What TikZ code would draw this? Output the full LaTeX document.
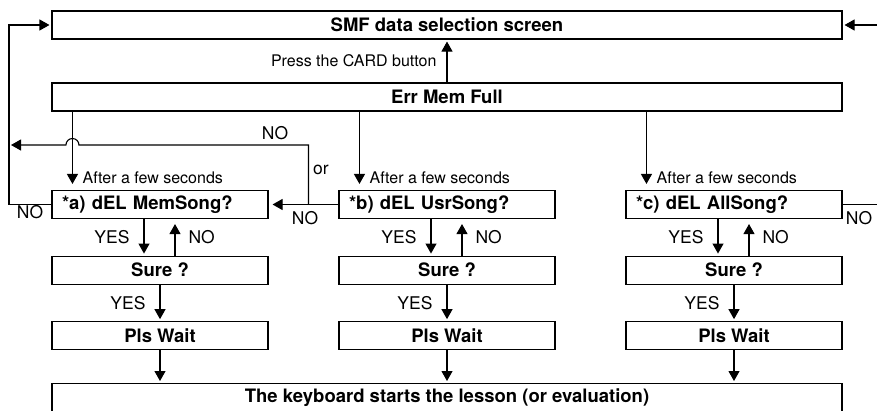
\documentclass[tikz,border=0pt]{standalone}
\usepackage{fontspec}
\setmainfont{TeX Gyre Heros}
\usetikzlibrary{arrows.meta,positioning,calc}
\tikzset{
  menubox/.style={draw,line width=1.1pt,minimum height=28pt,inner sep=0pt,font=\fontsize{18.5}{20}\selectfont\bfseries},
  widebox/.style={menubox,minimum width=790pt},
  colbox/.style={menubox,minimum width=216pt},
  askbox/.style={colbox,text width=196pt,inner xsep=10pt,align=left},
  flowline/.style={line width=1.1pt,-{Triangle[length=10pt,width=11pt]},shorten >=2pt},
  lbl/.style={font=\fontsize{17.5}{19}\selectfont,inner sep=0pt},
  smalllbl/.style={font=\fontsize{16}{18}\selectfont,inner sep=0pt}
}
\begin{document}
\begin{tikzpicture}[x=1pt,y=1pt]
\useasboundingbox (0,0) rectangle (877,-410);
\node[widebox] (smf) at (447,-25) {SMF data selection screen};
\node[widebox] (err) at (447,-97) {Err Mem Full};
\node[askbox] (a) at (160,-204.5) {*a) dEL MemSong?};
\node[askbox] (b) at (447,-204.5) {*b) dEL UsrSong?};
\node[askbox] (c) at (734,-204.5) {*c) dEL AllSong?};
\foreach \n in {a,b,c}{
  \node[colbox,below=36.5pt of \n] (sure\n) {Sure ?};
  \node[colbox,below=36.5pt of sure\n] (wait\n) {Pls Wait};
}
\node[widebox,anchor=north] (keys) at (447,-383) {The keyboard starts the lesson (or evaluation)};
\coordinate (lx) at (9,-25);
\coordinate (rx) at (890,-25);
\coordinate (hopy) at (0,-145);
\coordinate (orpt) at ($(b.west)+(-30,0)$);
% top part
\draw[flowline] (err.north) -- node[smalllbl,left=10pt]{Press the CARD button} (smf.south);
\foreach \n in {a,b,c}{
  \coordinate (in\n) at ($(\n.north west)+(21,0)$);
  \draw[flowline,shorten >=6pt] (err.south -| in\n) -- (in\n);
  \node[smalllbl,anchor=base west] (after\n) at ($(in\n)+(10,6)$) {After a few seconds};
}
% NO loops
\draw[flowline] (a.west) -| (lx) -- (smf.west);
\draw[flowline] (c.east) -| (rx) -- (smf.east);
\draw[flowline,shorten >=4pt] (b.west) -- (a.east);
\draw[flowline] (orpt) -- (orpt |- hopy) -- ($(ina |- hopy)+(6.5,0)$) arc[start angle=0,end angle=180,radius=6.5] -- (lx |- hopy);
\node[lbl] (noup) at (275,-133) {NO};
\node[lbl] (ortext) at (321,-170) {or};
\node[lbl] (noa) at (30,-212) {NO};
\node[lbl] (nob) at (305,-218) {NO};
\node[lbl] (noc) at (859,-218) {NO};
% columns
\foreach \n in {a,b,c}{
  \draw[flowline] ($(\n.south)+(-16,0)$) -- node[lbl,left=14pt]{YES} ($(sure\n.north)+(-16,0)$);
  \draw[flowline,shorten >=5pt] ($(sure\n.north)+(15,0)$) -- node[lbl,right=13pt]{NO} ($(\n.south)+(15,0)$);
  \draw[flowline] (sure\n) -- node[lbl,left=14pt]{YES} (wait\n);
  \draw[flowline] (wait\n) -- (wait\n |- keys.north);
}
\end{tikzpicture}
\end{document}
